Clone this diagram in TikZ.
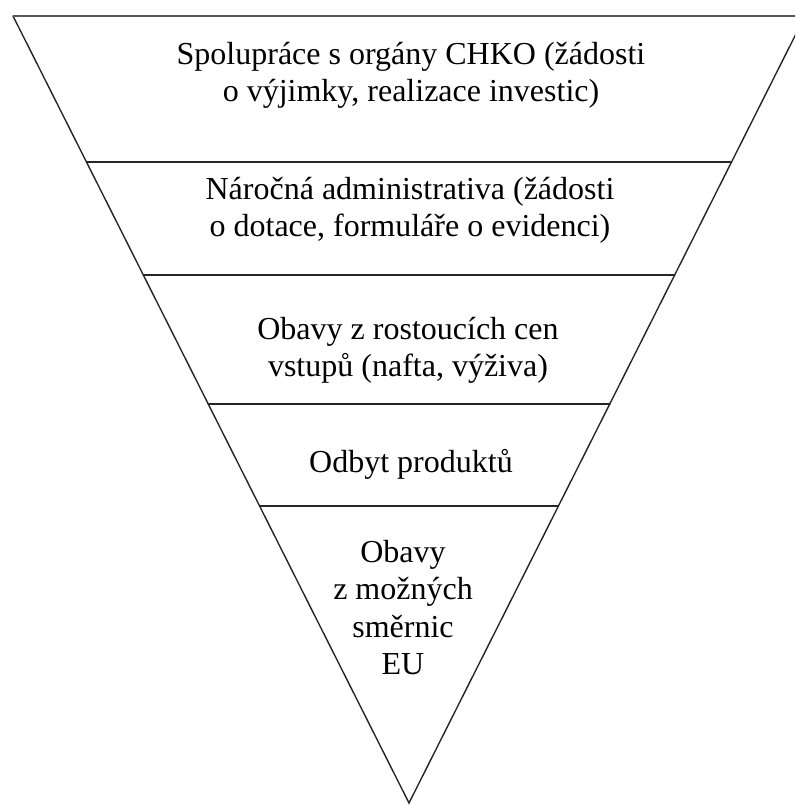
\documentclass[tikz,border=0pt]{standalone}
\usepackage{fontspec}
\setmainfont{Liberation Serif}
\tikzset{Edge/.style={draw=black!85,line width=1.4pt,line cap=round},
  TopEdge/.style={draw=black!65,line width=2.6pt},
  Label/.style={font=\fontsize{32}{37.5}\selectfont,align=center,
    inner sep=0pt,anchor=base}}
\begin{document}
\begin{tikzpicture}[x=1pt,y=1pt]
    \useasboundingbox(0,0)rectangle(795,805);
    \clip(0,0)rectangle(795,805);
        \coordinate(tl)at(13,789);
        \coordinate(tr)at(805,789);
        \coordinate(apex)at(409,2);
        \coordinate(l1)at(86.5,643);
        \coordinate(r1)at(731.5,643);
        \coordinate(l2)at(143.3,530);
        \coordinate(r2)at(674.7,530);
        \coordinate(l3)at(208.2,401);
        \coordinate(r3)at(609.8,401);
        \coordinate(l4)at(259.6,299);
        \coordinate(r4)at(558.4,299);
        \draw[Edge](tl)--(apex)--(tr);
        \draw[TopEdge](tl)--(tr);
        \draw[Edge](l1)--(r1);
        \draw[Edge](l2)--(r2);
        \draw[Edge](l3)--(r3);
        \draw[Edge](l4)--(r4);
        % anchor base = baseline of the last line
        \node[Label](t1)at(411,703){Spolupráce s orgány CHKO (žádosti\\o výjimky, realizace investic)};
        \node[Label](t2)at(410,568){Náročná administrativa (žádosti\\o dotace, formuláře o evidenci)};
        \node[Label](t3)at(408,428){Obavy z rostoucích cen\\vstupů (nafta, výživa)};
        \node[Label](t4)at(411,332){Odbyt produktů};
        \node[Label](t5)at(403,130){Obavy\\z možných\\směrnic\\EU};
\end{tikzpicture}
\end{document}
